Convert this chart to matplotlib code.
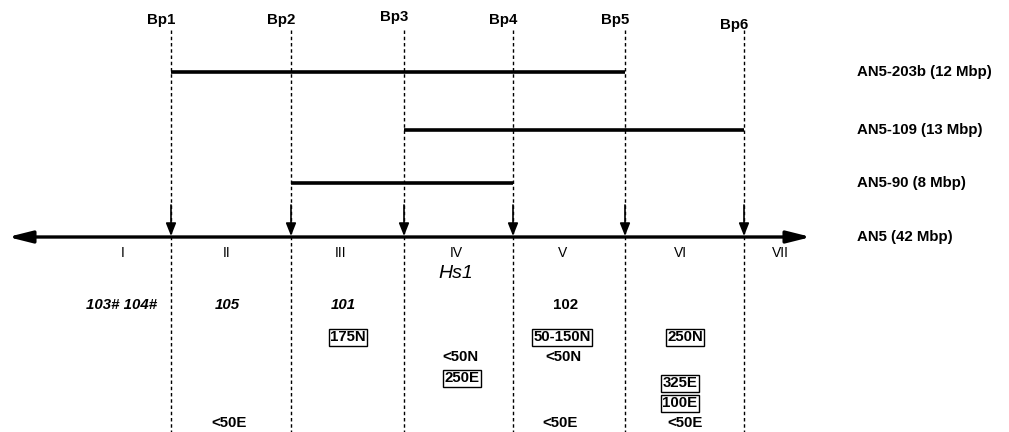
import matplotlib.pyplot as plt

plt.rcParams['font.family'] = ['Liberation Sans', 'DejaVu Sans']

# breakpoint positions along the map (diagram units)
bp_names = ['Bp1', 'Bp2', 'Bp3', 'Bp4', 'Bp5', 'Bp6']
bp_pos = [171, 291, 404, 513, 625, 744]
bp_label_y = [20, 20, 17, 20, 20, 25]

# deletion spans (start bp index, end bp index)
del_names = ['AN5-203b (12 Mbp)', 'AN5-109 (13 Mbp)', 'AN5-90 (8 Mbp)']
del_span = [(0, 4), (2, 5), (1, 3)]
del_row = [72, 130, 183]

# intervals
regions = ['I', 'II', 'III', 'IV', 'V', 'VI', 'VII']
region_x = [123, 227, 341, 456, 563, 681, 780]

# annotations: (text, x, y, boxed, italic)
notes = [
    ('103# 104#', 122, 305, False, True),
    ('105', 227, 305, False, True),
    ('101', 343, 305, False, True),
    ('102', 566, 305, False, False),
    ('175N', 348, 337, True, False),
    ('50-150N', 562, 337, True, False),
    ('250N', 685, 337, True, False),
    ('<50N', 460, 357, False, False),
    ('<50N', 563, 357, False, False),
    ('250E', 462, 378, True, False),
    ('325E', 680, 383, True, False),
    ('100E', 680, 403, True, False),
    ('<50E', 229, 423, False, False),
    ('<50E', 560, 423, False, False),
    ('<50E', 685, 423, False, False),
]

fig = plt.figure(figsize=(10.09, 4.32), dpi=100)
ax = fig.add_axes([0, 0, 1, 1])
ax.set_xlim(0, 1009)
ax.set_ylim(432, 0)
ax.axis('off')

axis_y = 237
fs = 10.8

# dashed breakpoint lines, labels, arrows
for name, x, ly in zip(bp_names, bp_pos, bp_label_y):
    ax.plot([x, x], [30, 432], color='black', lw=1.0, ls=(0, (2.5, 2)))
    ax.text(x - 10, ly, name, ha='center', va='center', fontsize=fs,
            fontweight='bold')
    ax.annotate('', xy=(x, axis_y - 1), xytext=(x, 205),
                arrowprops=dict(arrowstyle='-|>,head_length=0.55,head_width=0.22',
                                color='black', lw=1.2,
                                mutation_scale=14, shrinkA=0, shrinkB=0))

# deletion bars
for name, (a, b), y in zip(del_names, del_span, del_row):
    ax.plot([bp_pos[a], bp_pos[b]], [y, y], color='black', lw=2.6,
            solid_capstyle='butt')
    ax.text(857, y, name, ha='left', va='center', fontsize=fs,
            fontweight='bold')

# main chromosome axis with double arrow
ax.annotate('', xy=(8, axis_y), xytext=(811, axis_y),
            arrowprops=dict(arrowstyle='<|-|>,head_length=0.8,head_width=0.2',
                            color='black', lw=2.4,
                            mutation_scale=18, shrinkA=0, shrinkB=0))
ax.text(857, axis_y, 'AN5 (42 Mbp)', ha='left', va='center', fontsize=fs,
        fontweight='bold')

for r, x in zip(regions, region_x):
    ax.text(x, 253, r, ha='center', va='center', fontsize=10)

ax.text(456, 273, 'Hs1', ha='center', va='center', fontsize=14,
        style='italic')

for txt, x, y, boxed, ital in notes:
    kw = dict(ha='center', va='center', fontsize=fs, fontweight='bold')
    if ital:
        kw['style'] = 'italic'
    if boxed:
        kw['bbox'] = dict(boxstyle='square,pad=0.1', fc='white',
                          ec='black', lw=1.0)
    ax.text(x, y, txt, **kw)

fig.savefig('out.png', dpi=100)
